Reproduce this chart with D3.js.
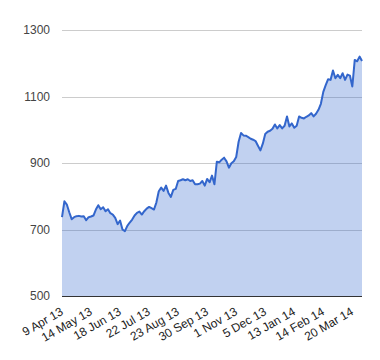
<!DOCTYPE html>
<html>
<head>
<meta charset="utf-8">
<script src="https://cdn.jsdelivr.net/npm/d3@7"></script>
<style>
  body { margin: 0; background: #fff; }
  svg text { font-family: Arial, "Liberation Sans", sans-serif; }
</style>
</head>
<body>
<svg id="chart" width="380" height="360"></svg>
<script>

// Closing prices, roughly two trading days per point
const prices = [
  737, 785, 775, 752, 731, 737, 740, 741, 739, 740,
  728, 737, 739, 742, 760, 773, 761, 767, 755, 761,
  749, 745, 735, 716, 727, 700, 695, 711, 721, 730,
  742, 750, 754, 745, 755, 763, 768, 764, 760, 781,
  815, 826, 816, 832, 810, 798, 819, 822, 846, 848,
  851, 848, 851, 846, 848, 836, 836, 838, 846, 832,
  852, 842, 862, 836, 904, 902, 910, 916, 905, 886,
  899, 905, 918, 964, 990, 983, 982, 978, 973, 970,
  966, 952, 938, 958, 987, 994, 997, 1003, 1016, 1004,
  1014, 1004, 1012, 1040, 1010, 1019, 1006, 1012, 1040, 1036,
  1034, 1039, 1043, 1050, 1040, 1048, 1060, 1078, 1114, 1134,
  1152, 1150, 1178, 1155, 1165, 1155, 1170, 1150, 1166, 1163,
  1130, 1210, 1206, 1220, 1207
]

// One label every 12 points
const dateLabels = [
  "9 Apr 13", "14 May 13", "18 Jun 13", "22 Jul 13", "23 Aug 13",
  "30 Sep 13", "1 Nov 13", "5 Dec 13", "13 Jan 14", "14 Feb 14", "20 Mar 14"
]
const labelStep = 12

const yTicks = [500, 700, 900, 1100, 1300]

let svg = d3.select("#chart")

const plotLeft = 62, plotRight = 362, plotTop = 30, plotBottom = 296

let x = d3.scaleLinear()
    .domain([0, prices.length - 1])
    .range([plotLeft, plotRight])

let y = d3.scaleLinear()
    .domain([500, 1300])
    .range([plotBottom, plotTop])

// Gridlines
svg.append("g")
    .selectAll("line")
    .data(yTicks.slice(1))
    .enter().append("line")
      .attr("x1", plotLeft)
      .attr("x2", plotRight)
      .attr("y1", function(d) { return Math.round(y(d)) + 0.5 })
      .attr("y2", function(d) { return Math.round(y(d)) + 0.5 })
      .attr("stroke", "#cccccc")

// Area + line
let area = d3.area()
    .x(function(d, i) { return x(i) })
    .y0(y(500))
    .y1(function(d) { return y(d) })

let line = d3.line()
    .x(function(d, i) { return x(i) })
    .y(function(d) { return y(d) })

svg.append("path")
    .datum(prices)
    .attr("d", area)
    .attr("fill", "#3366cc")
    .attr("fill-opacity", 0.3)

svg.append("path")
    .datum(prices)
    .attr("d", line)
    .attr("fill", "none")
    .attr("stroke", "#3366cc")
    .attr("stroke-width", 2)
    .attr("stroke-linejoin", "round")

// Baseline
svg.append("line")
    .attr("x1", plotLeft)
    .attr("x2", plotRight)
    .attr("y1", y(500) + 0.5)
    .attr("y2", y(500) + 0.5)
    .attr("stroke", "#333333")

// Y axis labels
svg.append("g")
    .selectAll("text")
    .data(yTicks)
    .enter().append("text")
      .attr("x", 50)
      .attr("y", function(d) { return y(d) })
      .attr("dy", "0.35em")
      .attr("text-anchor", "end")
      .attr("font-size", 12)
      .attr("fill", "#444444")
      .text(function(d) { return d })

// X axis labels, slanted
svg.append("g")
    .selectAll("text")
    .data(dateLabels)
    .enter().append("text")
      .attr("transform", function(d, i) {
        return "translate(" + (x(i * labelStep) + 2) + ",314) rotate(-30)"
      })
      .attr("text-anchor", "end")
      .attr("font-size", 12)
      .attr("fill", "#222222")
      .text(function(d) { return d })

</script>
</body>
</html>
